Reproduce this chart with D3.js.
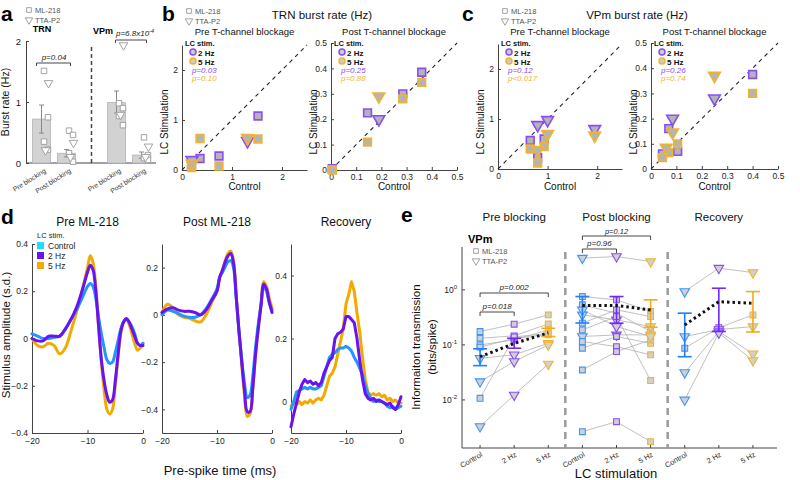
<!DOCTYPE html>
<html><head><meta charset="utf-8">
<script src="https://cdn.jsdelivr.net/npm/d3@7"></script>
<style>body{margin:0;background:#fff}</style>
</head><body>
<script>
// ---------------- DATA ----------------
// panel a
const aKeys = ["TRN-pre","TRN-post","sep","VPm-pre","VPm-post"];
const aBarKeys = ["TRN-pre","TRN-post","VPm-pre","VPm-post"];
const aBarLabels = ["Pre blocking","Post blocking","Pre blocking","Post blocking"];
const aBarMean = [0.72,0.16,0.99,0.13];
const aBarLo = [0.49,0.10,0.82,0.08];
const aBarHi = [0.95,0.22,1.18,0.18];
const aSquares = [[1.51,0.75,0.35,0.22],[0.53,0.46,0.16,0.02],[0.98,0.90,0.77,0.62],[0.42,0.13,0.08,0.05]];
const aTriangles = [[1.31,0.21],[0.33,0.10],[1.93,0.79],[0.27,0.10]];
const aTicks = [0,1,2];
// panel b (TRN)
const bPreShape = ["s","s","s","s","t","t"];
const bPreCtrl = [1.52,0.74,0.36,0.19,1.31,0.20];
const bPre2Hz = [1.08,0.28,0.23,0.10,0.58,0.20];
const bPre5Hz = [0.62,0.08,0.63,0.05,0.64,0.13];
const bPostShape = ["s","s","s","s","t"];
const bPostCtrl = [0.36,0.285,0.145,0.005,0.19];
const bPost2Hz = [0.385,0.30,0.225,0.005,0.20];
const bPost5Hz = [0.345,0.28,0.11,0.0,0.29];
// panel c (VPm)
const cPreShape = ["s","s","s","t","t","t"];
const cPreCtrl = [0.65,0.93,0.80,0.80,1.00,1.95];
const cPre2Hz = [0.57,0.60,0.23,0.88,0.98,0.80];
const cPre5Hz = [0.40,0.45,0.12,0.38,0.70,0.67];
const cPostShape = ["s","s","s","s","t","t","t"];
const cPostCtrl = [0.40,0.07,0.105,0.045,0.25,0.085,0.06];
const cPost2Hz = [0.375,0.16,0.07,0.06,0.28,0.20,null];
const cPost5Hz = [0.30,0.065,0.10,0.045,0.37,0.145,0.085];
const bigTicks = [0,1,2];
const smallTicks = [0,0.1,0.2,0.3,0.4,0.5];
// panel d
const dTime = [-20,-19,-18,-17,-16,-15,-14,-13,-12,-11,-10,-9.5,-9,-8.5,-8,-7.5,-7,-6.5,-6,-5.5,-5,-4.5,-4,-3.5,-3,-2.5,-2,-1.5,-1,-0.5,0];
const dPreCtrl = [0.02,0.01,0.0,0.0,0.005,0.01,0.04,0.08,0.12,0.17,0.22, 0.233,0.22,0.17,0.09,0.02,-0.04,-0.09,-0.105,-0.1,-0.06,-0.01,0.04,0.07,0.08,0.07,0.05,0.02,-0.02,-0.03,-0.02];
const dPre2Hz = [0.0,-0.01,-0.01,0.01,0.01,0.01,0.04,0.08,0.13,0.2,0.28, 0.31,0.29,0.2,0.05,-0.09,-0.18,-0.24,-0.27,-0.26,-0.18,-0.07,0.03,0.07,0.085,0.07,0.04,0.01,-0.02,-0.03,-0.03];
const dPre5Hz = [0.0,-0.03,-0.035,-0.02,-0.03,-0.065,-0.04,0.03,0.11,0.2,0.3, 0.35,0.32,0.22,0.05,-0.1,-0.22,-0.3,-0.32,-0.3,-0.2,-0.08,0.02,0.07,0.08,0.06,0.02,-0.02,-0.05,-0.04,-0.02];
const dPostCtrl = [0.0,0.02,0.015,0.005,-0.005,-0.01,-0.01,0.0,0.025,0.065,0.11, 0.16,0.18,0.205,0.225,0.23,0.2,0.07,-0.07,-0.19,-0.29,-0.35,-0.34,-0.26,-0.14,-0.04,0.04,0.12,0.1,0.05,0.02];
const dPost2Hz = [0.01,0.025,0.03,0.02,0.015,0.015,0.01,0.0,0.02,0.06,0.1, 0.16,0.19,0.225,0.25,0.26,0.22,0.075,-0.07,-0.2,-0.32,-0.41,-0.41,-0.31,-0.17,-0.06,0.04,0.13,0.11,0.055,0.01];
const dPost5Hz = [0.01,0.045,0.03,0.0,-0.01,-0.015,-0.025,-0.03,0.0,0.05,0.1, 0.16,0.19,0.23,0.26,0.27,0.23,0.08,-0.07,-0.21,-0.34,-0.43,-0.42,-0.32,-0.17,-0.05,0.05,0.14,0.12,0.07,0.03];
const dRecTime = [-20,-19.5,-19,-18.5,-18,-17.5,-17,-16.5,-16,-15.5,-15,-14.5,-14,-13.5,-13,-12.5,-12,-11.5,-11,-10.5,-10,-9.5,-9,-8.5,-8,-7.5,-7,-6.5,-6,-5.5,-5,-4.5,-4,-3.5,-3,-2.5,-2,-1.5,-1,-0.5,0];
const dRecCtrl = [-0.025,0.0,0.03,0.035,0.04,0.045,0.04,0.045,0.04,0.04, 0.045,0.05,0.08,0.11,0.14,0.15,0.155,0.165,0.17,0.17, 0.175,0.17,0.16,0.14,0.125,0.105,0.085,0.05,0.025,0.01, 0.0,0.005,0.0,0.0,-0.005,-0.015,-0.02,-0.015,-0.025,-0.02,-0.015];
const dRec2Hz = [-0.08,-0.04,-0.005,0.03,0.055,0.07,0.06,0.065,0.055,0.06, 0.05,0.06,0.09,0.11,0.13,0.14,0.2,0.215,0.22,0.23, 0.27,0.27,0.26,0.25,0.2,0.13,0.07,0.025,0.01,0.005, 0.01,0.0,0.005,0.0,-0.005,-0.01,-0.005,-0.02,-0.025,-0.01,0.015];
const dRec5Hz = [-0.015,0.0,-0.01,0.0,-0.01,0.0,-0.005,0.005,-0.005,0.005, 0.01,0.005,0.02,0.05,0.08,0.09,0.11,0.15,0.19,0.23, 0.31,0.34,0.38,0.35,0.28,0.22,0.14,0.07,0.03,0.02, 0.025,0.02,0.025,0.015,0.02,0.005,0.01,0.0,0.005,-0.005,-0.005];
const dLegend = ["Control","2 Hz","5 Hz"];
// panel e
const eGroups = ["Pre blocking","Post blocking","Recovery"];
const eConds = ["Control","2 Hz","5 Hz"];
const eExpLabels = ["-2","-1","0"];
const ePreShape = ["s","s","s","s","s","t","t","t"];
const ePreCtrl = [0.175,0.132,0.100,0.091,0.0107,0.057,0.0215,0.0033];
const ePre2Hz = [0.238,0.146,0.123,0.132,0.14,0.066,0.050,0.0123];
const ePre5Hz = [0.351,0.241,0.187,0.152,0.16,0.107,0.100,0.045];
const ePreMean = [0.061,0.106,0.166];
const ePreLo = [0.042,0.087,0.142];
const ePreHi = [0.085,0.132,0.20];
const ePostShape = ["t","s","s","t","s","s","t","s","s","s","s","t"];
const ePostCtrl = [3.77,0.756,0.534,0.351,0.248,0.187,0.142,0.115,0.087,0.035,0.00265,0.433];
const ePost2Hz = [4.03,0.658,0.377,0.285,0.433,0.327,0.152,0.093,0.142,0.0757,0.00403,0.215];
const ePost5Hz = [3.27,0.404,0.175,0.215,0.327,0.0225,0.152,0.066,0.107,0.123,0.00175,0.142];
const ePostMean = [0.52,0.52,0.43];
const ePostLo = [0.25,0.248,0.21];
const ePostHi = [0.756,0.756,0.658];
const eRecShape = ["t","s","t","t","t"];
const eRecCtrl = [0.93,0.087,0.142,0.0314,0.01];
const eRec2Hz = [2.48,0.205,0.19,0.175,0.165];
const eRec5Hz = [2.06,0.35,0.215,0.069,0.052];
const eRecMean = [0.23,0.61,0.57];
const eRecLo = [0.061,0.175,0.172];
const eRecHi = [0.377,1.07,0.93];

// ---------------- STYLE ----------------
const FONT = "'Liberation Sans', Arial, sans-serif";
const PURPLE = "#8a4cf7", ORANGE = "#f0b42c", BLUE = "#3d95ff";
const LPURPLE = "#6a12f2", LORANGE = "#f2aa00", LBLUE = "#2196ff", CYAN = "#22dcff";
const EPURPLE = "#7028ff", EORANGE = "#f2ab1e", EBLUE = "#1f7fff";
const AX = "#444";

const svg = d3.select("body").append("svg").attr("width",800).attr("height",480).style("font-family",FONT);
svg.append("rect").attr("width",800).attr("height",480).attr("fill","#fff");

function text(g,x,y,s,o={}){
  const t = g.append("text").attr("x",x).attr("y",y).text(s)
    .attr("font-size",o.size||8).attr("fill",o.fill||"#222")
    .attr("text-anchor",o.anchor||"start").attr("font-weight",o.weight||"normal")
    .attr("font-style",o.style||"normal");
  if(o.rotate!=null) t.attr("transform",`rotate(${o.rotate},${x},${y})`);
  return t;
}
function styleAxis(g,fs){
  g.select(".domain").attr("stroke",AX).attr("stroke-width",1);
  g.selectAll(".tick line").attr("stroke",AX);
  g.selectAll(".tick text").attr("font-size",fs||8).attr("fill","#222").attr("font-family",FONT);
}
function symPath(shape,area){
  return d3.symbol(shape==="s"?d3.symbolSquare:d3.symbolTriangle, area)();
}
function marker(g,x,y,shape,area,stroke,fill,sw){
  g.append("path").attr("d",symPath(shape,area))
    .attr("transform",`translate(${x},${y})`+(shape==="t"?" rotate(180)":""))
    .attr("fill",fill).attr("stroke",stroke).attr("stroke-width",sw);
}
function bracket(g,x1,x2,y,h){
  g.append("path").attr("d",`M${x1},${y+h}V${y}H${x2}V${y+h}`).attr("fill","none").attr("stroke","#333").attr("stroke-width",0.9);
}
function panelLabel(x,y,s){ text(svg,x,y,s,{size:21,weight:"bold",fill:"#000"}); }
function drugLegend(x,y){
  marker(svg,x,y,"s",22,"#999","#fff",0.9);
  text(svg,x+6,y+3,"ML-218",{size:7.5,fill:"#555"});
  marker(svg,x,y+10,"t",24,"#999","#fff",0.9);
  text(svg,x+6,y+13,"TTA-P2",{size:7.5,fill:"#555"});
}

// ---------------- PANEL A ----------------
panelLabel(1,21,"a");
drugLegend(29,10);
{
  const g = svg.append("g");
  const xa = d3.scalePoint(aKeys,[29,154]).padding(0.5);
  const ya = d3.scaleLinear([0,2],[163,41]);
  g.append("g").attr("transform","translate(26,0)")
    .call(d3.axisLeft(ya).tickValues(aTicks).tickFormat(d3.format("d")).tickSizeInner(-3).tickSizeOuter(0).tickPadding(5))
    .call(a=>styleAxis(a,9.5));
  g.append("line").attr("x1",26).attr("x2",156).attr("y1",163).attr("y2",163).attr("stroke",AX);
  text(g,9,102,"Burst rate (Hz)",{size:10.5,anchor:"middle",rotate:-90,fill:"#111"});
  text(g,42,32,"TRN",{size:9,anchor:"middle",weight:"bold",fill:"#000"});
  text(g,103,34,"VPm",{size:9,anchor:"middle",weight:"bold",fill:"#000"});
  g.append("line").attr("x1",xa("sep")).attr("x2",xa("sep")).attr("y1",ya(2)+6).attr("y2",ya(0))
    .attr("stroke","#444").attr("stroke-width",1.5).attr("stroke-dasharray","4,3");
  aBarKeys.forEach((k,i)=>{
    const cx = xa(k);
    g.append("rect").attr("x",cx-9).attr("width",18).attr("y",ya(aBarMean[i])).attr("height",ya(0)-ya(aBarMean[i]))
      .attr("fill","#d2d2d2").attr("stroke","#b4b4b4").attr("stroke-width",0.8);
    g.append("line").attr("x1",cx).attr("x2",cx).attr("y1",ya(aBarLo[i])).attr("y2",ya(aBarHi[i])).attr("stroke","#888");
    [aBarLo[i],aBarHi[i]].forEach(v=>g.append("line").attr("x1",cx-2.5).attr("x2",cx+2.5).attr("y1",ya(v)).attr("y2",ya(v)).attr("stroke","#888"));
    aSquares[i].forEach((v,j)=>marker(g,cx+4+(j%2?2.5:-1.5),ya(v),"s",30,"#9a9a9a","#fff",0.9));
    aTriangles[i].forEach((v,j)=>marker(g,cx+5+(j%2?-1:2),ya(v),"t",32,"#9a9a9a","#fff",0.9));
    text(g,cx+5,172,aBarLabels[i],{size:6.8,anchor:"end",rotate:-32,fill:"#333"});
  });
  bracket(g,xa("TRN-pre")-5,xa("TRN-post")+4,63,3);
  text(g,(xa("TRN-pre")+xa("TRN-post"))/2,60,"p=0.04",{size:8,anchor:"middle",style:"italic"});
  bracket(g,xa("VPm-pre")-1,xa("VPm-post")+5,40,3);
  const pt = text(g,116,36,"p=6.8x10",{size:8,style:"italic"});
  pt.append("tspan").attr("dy",-3).attr("font-size",5.5).text("-4");
}

// ---------------- PANELS B & C ----------------
function scatter(cfg){
  const g = svg.append("g");
  const x = d3.scaleLinear([0,cfg.max],[cfg.x0,cfg.x1]);
  const y = d3.scaleLinear([0,cfg.max],[cfg.y0,cfg.y1]);
  const fmt = cfg.max>1 ? d3.format("d") : (v=>v===0?"0":d3.format(".1f")(v));
  g.append("g").attr("transform",`translate(0,${cfg.y0})`)
    .call(d3.axisBottom(x).tickValues(cfg.ticks).tickFormat(fmt).tickSizeInner(-3).tickSizeOuter(0).tickPadding(4))
    .call(a=>styleAxis(a,8.5));
  g.append("g").attr("transform",`translate(${cfg.x0},0)`)
    .call(d3.axisLeft(y).tickValues(cfg.ticks).tickFormat(fmt).tickSizeInner(-3).tickSizeOuter(0).tickPadding(4))
    .call(a=>styleAxis(a,8.5));
  g.append("line").attr("x1",x(0)).attr("y1",y(0)).attr("x2",x(cfg.max)).attr("y2",y(cfg.max))
    .attr("stroke","#222").attr("stroke-width",1.1).attr("stroke-dasharray","4,4");
  cfg.ctrl.forEach((c,i)=>{ if(cfg.hz2[i]!=null) marker(g,x(c),y(cfg.hz2[i]),cfg.shape[i],60,PURPLE,"#b4b4b4",1.6); });
  cfg.ctrl.forEach((c,i)=>{ if(cfg.hz5[i]!=null) marker(g,x(c),y(cfg.hz5[i]),cfg.shape[i],60,ORANGE,"#b4b4b4",1.6); });
  text(g,(cfg.x0+cfg.x1)/2,190,"Control",{size:10,anchor:"middle",fill:"#111"});
  text(g,cfg.x0-14,122,"LC Stimulation",{size:10,anchor:"middle",rotate:-90,fill:"#111"});
  text(g,cfg.x0+(cfg.x1-cfg.x0)/2,35,cfg.title,{size:9.5,anchor:"middle",fill:"#111"});
  const lx = cfg.x0+3;
  text(g,lx,46,"LC stim.",{size:7.5,weight:"bold",fill:"#111"});
  g.append("circle").attr("cx",lx+8).attr("cy",52).attr("r",3).attr("fill","#ccc").attr("stroke",PURPLE).attr("stroke-width",1.5);
  text(g,lx+13,55.5,"2 Hz",{size:8,weight:"bold",fill:"#111"});
  g.append("circle").attr("cx",lx+8).attr("cy",61).attr("r",3).attr("fill","#ccc").attr("stroke",ORANGE).attr("stroke-width",1.5);
  text(g,lx+13,64.5,"5 Hz",{size:8,weight:"bold",fill:"#111"});
  text(g,lx+7,72.5,cfg.p2,{size:8,style:"italic",fill:PURPLE});
  text(g,lx+7,81,cfg.p5,{size:8,style:"italic",fill:ORANGE});
}
panelLabel(162,21,"b");
drugLegend(189,11);
text(svg,322,19,"TRN burst rate (Hz)",{size:11.5,anchor:"middle",fill:"#111"});
scatter({x0:182,x1:307,y0:170,y1:45,max:2.5,ticks:bigTicks,shape:bPreShape,ctrl:bPreCtrl,hz2:bPre2Hz,hz5:bPre5Hz,p2:"p=0.03",p5:"p=0.10",title:"Pre T-channel blockage"});
scatter({x0:331,x1:457,y0:170,y1:43,max:0.5,ticks:smallTicks,shape:bPostShape,ctrl:bPostCtrl,hz2:bPost2Hz,hz5:bPost5Hz,p2:"p=0.25",p5:"p=0.88",title:"Post T-channel blockage"});
panelLabel(462,21,"c");
drugLegend(505,11);
text(svg,637,19,"VPm burst rate (Hz)",{size:11.5,anchor:"middle",fill:"#111"});
scatter({x0:498,x1:622,y0:169,y1:44,max:2.5,ticks:bigTicks,shape:cPreShape,ctrl:cPreCtrl,hz2:cPre2Hz,hz5:cPre5Hz,p2:"p=0.12",p5:"p<0.017",title:"Pre T-channel blockage"});
scatter({x0:651,x1:778,y0:169,y1:43,max:0.5,ticks:smallTicks,shape:cPostShape,ctrl:cPostCtrl,hz2:cPost2Hz,hz5:cPost5Hz,p2:"p=0.26",p5:"p=0.74",title:"Post T-channel blockage"});

// ---------------- PANEL D ----------------
panelLabel(1,224,"d");
function trace(cfg){
  const g = svg.append("g");
  const x = d3.scaleLinear([-20,0],[cfg.x0,cfg.x1]);
  const y = d3.scaleLinear(cfg.ydom,[433,244]);
  g.append("g").attr("transform","translate(0,433)")
    .call(d3.axisBottom(x).tickValues([-20,-10,0]).tickSizeInner(-3).tickSizeOuter(0).tickPadding(5))
    .call(a=>styleAxis(a,8.5));
  g.append("g").attr("transform",`translate(${cfg.x0},0)`)
    .call(d3.axisLeft(y).tickValues(cfg.yticks).tickFormat(v=>v===0?"0":d3.format(".1f")(v)).tickSizeInner(-3).tickSizeOuter(0).tickPadding(4))
    .call(a=>styleAxis(a,8.5));
  const line = d3.line().x((d,i)=>x(cfg.t[i])).y(d=>y(d)).curve(cfg.smooth?d3.curveCatmullRom.alpha(0.5):d3.curveLinear);
  [[cfg.s5,LORANGE],[cfg.sc,LBLUE],[cfg.s2,LPURPLE]].forEach(([s,c])=>{
    g.append("path").attr("d",line(s)).attr("fill","none").attr("stroke",c).attr("stroke-width",3).attr("stroke-linejoin","round").attr("stroke-linecap","round");
  });
  text(g,(cfg.x0+cfg.x1)/2,226,cfg.title,{size:12,anchor:"middle",fill:"#111"});
}
trace({x0:32,x1:143,ydom:[-0.4,0.4],yticks:[-0.4,-0.2,0,0.2,0.4],t:dTime,sc:dPreCtrl,s2:dPre2Hz,s5:dPre5Hz,smooth:true,title:"Pre ML-218"});
trace({x0:162,x1:272,ydom:[-0.5,0.3],yticks:[-0.4,-0.2,0,0.2],t:dTime,sc:dPostCtrl,s2:dPost2Hz,s5:dPost5Hz,smooth:true,title:"Post ML-218"});
trace({x0:291,x1:401,ydom:[-0.1,0.5],yticks:[0,0.2,0.4],t:dRecTime,sc:dRecCtrl,s2:dRec2Hz,s5:dRec5Hz,smooth:false,title:"Recovery"});
text(svg,37,238,"LC stim.",{size:7.5,fill:"#222"});
[CYAN,LPURPLE,LORANGE].forEach((c,i)=>{
  svg.append("rect").attr("x",37).attr("y",242+i*10).attr("width",7).attr("height",7).attr("fill",c);
  text(svg,48,248.5+i*10,dLegend[i],{size:8.5,fill:"#222"});
});
text(svg,10,335,"Stimulus amplitude (s.d.)",{size:11.5,anchor:"middle",rotate:-90,fill:"#111"});
text(svg,220,475,"Pre-spike time (ms)",{size:13,anchor:"middle",fill:"#111"});

// ---------------- PANEL E ----------------
panelLabel(401,222,"e");
{
  const g = svg.append("g");
  const ye = d3.scaleLog([0.00134,6.0],[448,247]);
  const xg = d3.scaleBand(eGroups,[463,770]);
  const xc = d3.scalePoint(eConds,[0,xg.bandwidth()]).padding(0.5);
  const X = (gi,ci)=>xg(eGroups[gi])+xc(eConds[ci]);
  // axes
  g.append("line").attr("x1",462).attr("x2",462).attr("y1",247).attr("y2",448).attr("stroke",AX);
  g.append("line").attr("x1",462).attr("x2",777).attr("y1",448).attr("y2",448).attr("stroke",AX);
  [0.01,0.1,1].forEach((v,i)=>{
    g.append("line").attr("x1",462).attr("x2",465).attr("y1",ye(v)).attr("y2",ye(v)).attr("stroke",AX);
    const t = text(g,457,ye(v)+3,"10",{size:8.5,anchor:"end"});
    t.append("tspan").attr("dy",-4).attr("font-size",6).text(eExpLabels[i]);
  });
  eGroups.forEach((gr,gi)=>{
    text(g,xg(gr)+xg.bandwidth()/2,221,gr,{size:11.5,anchor:"middle",fill:"#111"});
    eConds.forEach((c,ci)=>{
      g.append("line").attr("x1",X(gi,ci)).attr("x2",X(gi,ci)).attr("y1",448).attr("y2",445).attr("stroke",AX);
      text(g,X(gi,ci)+3,456,c,{size:7.5,anchor:"end",rotate:-30,fill:"#333"});
    });
  });
  // separators
  [1,2].forEach(gi=>{
    const sx = xg(eGroups[gi]);
    g.append("line").attr("x1",sx).attr("x2",sx).attr("y1",252).attr("y2",448)
      .attr("stroke","#9a9a9a").attr("stroke-width",2.5).attr("stroke-dasharray","7,5");
  });
  const strokes = [BLUE,PURPLE,ORANGE];
  const ebc = [EBLUE,EPURPLE,EORANGE];
  const groups = [
    {shape:ePreShape,vals:[ePreCtrl,ePre2Hz,ePre5Hz],mean:ePreMean,lo:ePreLo,hi:ePreHi},
    {shape:ePostShape,vals:[ePostCtrl,ePost2Hz,ePost5Hz],mean:ePostMean,lo:ePostLo,hi:ePostHi},
    {shape:eRecShape,vals:[eRecCtrl,eRec2Hz,eRec5Hz],mean:eRecMean,lo:eRecLo,hi:eRecHi}
  ];
  groups.forEach((G,gi)=>{
    G.shape.forEach((s,u)=>{
      const pts = [0,1,2].map(ci=>[X(gi,ci),ye(G.vals[ci][u])]);
      g.append("path").attr("d",d3.line()(pts)).attr("fill","none").attr("stroke","#b0b0b0").attr("stroke-width",0.8);
    });
  });
  groups.forEach((G,gi)=>{
    [0,1,2].forEach(ci=>{
      G.shape.forEach((s,u)=>marker(g,X(gi,ci),ye(G.vals[ci][u]),s,s==="s"?34:40,strokes[ci],"#d0d0d0",1.1));
    });
  });
  groups.forEach((G,gi)=>{
    [0,1,2].forEach(ci=>{
      const cx = X(gi,ci);
      g.append("line").attr("x1",cx).attr("x2",cx).attr("y1",ye(G.lo[ci])).attr("y2",ye(G.hi[ci])).attr("stroke",ebc[ci]).attr("stroke-width",1.6);
      [G.lo[ci],G.hi[ci]].forEach(v=>g.append("line").attr("x1",cx-7).attr("x2",cx+7).attr("y1",ye(v)).attr("y2",ye(v)).attr("stroke",ebc[ci]).attr("stroke-width",1.6));
    });
    const mp = [0,1,2].map(ci=>[X(gi,ci),ye(G.mean[ci])]);
    g.append("path").attr("d",d3.line()(mp)).attr("fill","none").attr("stroke","#111").attr("stroke-width",3).attr("stroke-dasharray","2.5,3");
  });
  // p brackets
  bracket(g,X(0,0),X(0,1),312,4);
  text(g,(X(0,0)+X(0,1))/2,309,"p=0.018",{size:8,anchor:"middle",style:"italic"});
  bracket(g,X(0,0),X(0,2),293,4);
  text(g,(X(0,0)+X(0,2))/2,290,"p=0.002",{size:8,anchor:"middle",style:"italic"});
  bracket(g,X(1,0),X(1,1),249,4);
  text(g,(X(1,0)+X(1,1))/2,246,"p=0.96",{size:8,anchor:"middle",style:"italic"});
  bracket(g,X(1,0),X(1,2),236,4);
  text(g,(X(1,0)+X(1,2))/2,233.5,"p=0.12",{size:7.5,anchor:"middle",style:"italic"});
  text(g,468,243,"VPm",{size:11,weight:"bold",fill:"#000"});
  marker(g,476,251,"s",22,"#999","#fff",0.9);
  text(g,482,254,"ML-218",{size:7.5,fill:"#555"});
  marker(g,476,261,"t",24,"#999","#fff",0.9);
  text(g,482,264,"TTA-P2",{size:7.5,fill:"#555"});
  text(g,420,347,"Informaiton transmission",{size:11.5,anchor:"middle",rotate:-90,fill:"#111"});
  text(g,436,347,"(bits/spike)",{size:11.5,anchor:"middle",rotate:-90,fill:"#111"});
  text(g,616,478,"LC stimulation",{size:13,anchor:"middle",fill:"#111"});
}
</script>
</body></html>
